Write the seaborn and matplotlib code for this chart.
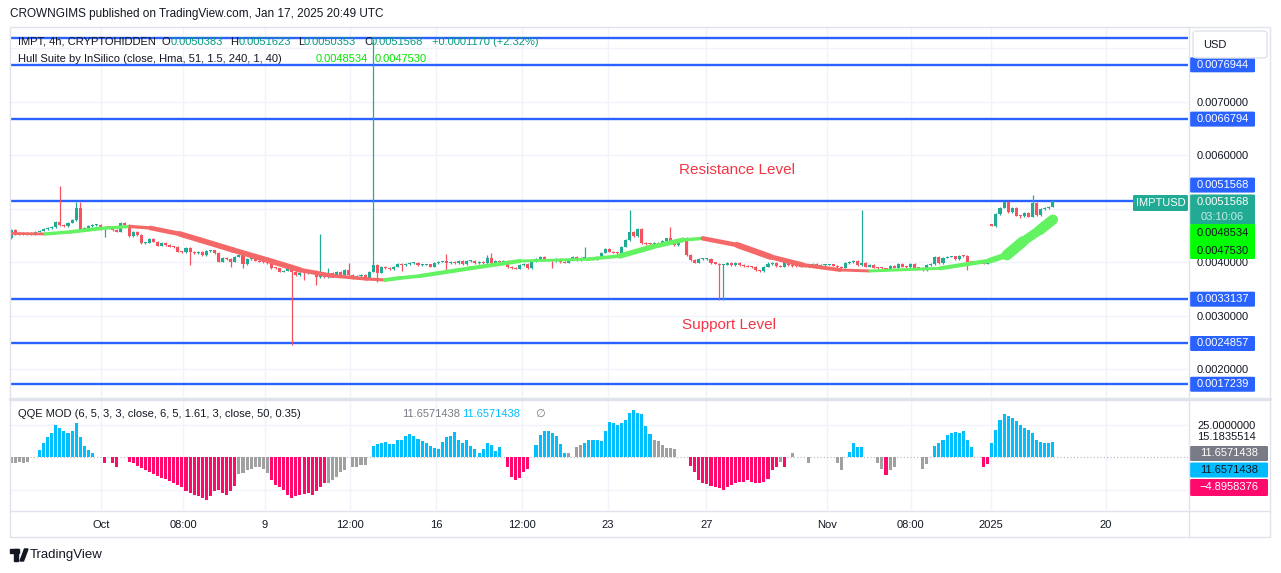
import numpy as np
import pandas as pd
import matplotlib
matplotlib.use("Agg")
import matplotlib.pyplot as plt
import seaborn as sns
from matplotlib.patches import Rectangle, FancyBboxPatch, Polygon
from matplotlib.lines import Line2D

# ---------------- data (prices in 1e-6 USD) ----------------
closes = [
    4607, 4533, 4551, 4523, 4551, 4533, 4576, 4594, 4620, 4645,
    4658, 4757, 4701, 4682, 4744, 4794, 5013, 4607, 4639, 4682,
    4695, 4701, 4620, 4669, 4663, 4607, 4576, 4744, 4701, 4495,
    4576, 4514, 4359, 4370, 4434, 4389, 4314, 4359, 4327, 4295,
    4290, 4202, 4191, 4265, 4202, 4172, 4202, 4140, 4215, 4225,
    4172, 4015, 4090, 4060, 4015, 4108, 4140, 3972, 4065, 4097,
    4034, 4015, 4005, 3985, 3897, 3890, 3828, 3847, 3935, 3828,
    3767, 3810, 3798, 3828, 3847, 3724, 3785, 3729, 3804, 3748,
    3828, 3767, 3860, 3767, 3705, 3748, 3767, 3692, 3828, 3953,
    3810, 3922, 3897, 3879, 3922, 3966, 3948, 3972, 3985, 3990,
    3953, 3960, 3965, 3922, 3985, 4015, 4020, 3985, 4015, 3985,
    4028, 3972, 4028, 4034, 3985, 4015, 3985, 4078, 3985, 4034,
    3985, 4028, 3911, 3892, 3885, 3953, 3966, 3892, 4028, 4060,
    4097, 4047, 4034, 4030, 4060, 4004, 3996, 4060, 4097, 4047,
    4078, 4085, 4060, 4055, 4108, 4183, 4252, 4202, 4183, 4175,
    4295, 4421, 4576, 4495, 4620, 4359, 4345, 4338, 4365, 4345,
    4400, 4450, 4389, 4327, 4421, 4452, 4140, 4047, 3996, 4060,
    4065, 4070, 3985, 3980, 3953, 3960, 3996, 3953, 3985, 3953,
    3935, 3922, 3915, 3850, 3842, 3922, 3972, 3996, 3935, 3922,
    4015, 3953, 3935, 3930, 3922, 3953, 3922, 3978, 3922, 3953,
    3960, 3965, 3940, 3916, 3903, 3985, 4004, 4028, 3953, 3985,
    3922, 3953, 3903, 3892, 3888, 3885, 3940, 3903, 3966, 3922,
    3915, 3966, 3903, 3898, 3860, 3953, 3966, 4108, 3985, 4090,
    4108, 4115, 4065, 4127, 4120, 4015, 4010, 4004, 4000, 3978,
    4028, 4688, 4901, 5024, 5125, 4938, 5013, 4875, 4865, 4920,
    4856, 5106, 4888, 5000, 5013, 5043, 5157,
]
first_open = 4460
gap_opens = {241: 4710}
high_wicks = {12: 5430, 16: 5136, 17: 5136, 76: 4533, 78: 3892, 83: 3996,
              89: 8180, 107: 4159, 117: 4140, 118: 4172, 141: 4295, 152: 4981,
              162: 4658, 186: 4015, 209: 4981, 251: 5261}
low_wicks = {23: 4482, 44: 3953, 54: 3911, 57: 3897, 69: 2458, 72: 3673,
             75: 3580, 90: 3641, 96: 3847, 107: 3847, 133: 3892, 174: 3299,
             175: 3299, 222: 3860, 235: 3860, 242: 4669, 248: 4826}

# Hull Suite line (bar position, price)
hull_idx = [0, 8.4, 14.5, 21.9, 29.2, 34.2, 41.5, 46.4, 54.5, 62.9, 71, 79.1,
            87.5, 91.9, 95.6, 100.5, 112.8, 125.1, 141.5, 149.6, 157.7, 165,
            170, 178.4, 186.5, 194.6, 203.7, 211, 228.3, 240.5, 244.7, 248.6,
            252.8, 256]
hull_p = [4542, 4533, 4570, 4635, 4673, 4645, 4533, 4421, 4234, 4047, 3860,
          3748, 3692, 3673, 3710, 3748, 3891, 4028, 4060, 4121, 4295, 4420,
          4450, 4327, 4108, 3953, 3860, 3841, 3891, 4034, 4140, 4389, 4607, 4800]

levels = [0.0082, 0.0076944, 0.0066794, 0.0051568, 0.0033137, 0.0024857, 0.0017239]

qqe_vals = [
    -4, -4, -3.5, -4, -3.5, 0, 0,
    5.6, 11.3, 15.4, 19, 24.9, 22.6, 20.3, 19, 20.3, 26.2, 15.9, 9, 5.6, 3.6,
    0, 0, -4, 0, -4.6, -7, 0, 0,
    -3.6, -4.6, -6.2, -8, -9.7, -11.3, -12.8, -14.4, -15.7, -16.9, -18.2, -19.5,
    -21, -23, -25.6, -27.7, -29, -29.7, -30.8, -32.8, -30, -25.6, -25, -27.7,
    -29, -25.6, -22,
    -12.8, -12.3, -9.7, -8.5, -7.2, -7.2, -9.2, -11.8,
    -17, -21, -23, -25, -29, -31.5, -30, -29, -28, -27.7, -29, -25.6, -23, -20,
    -20, -17.5, -15, -11, -9.7, 0, -7, -7, -6, -6, 0,
    8.7, 10.3, 11.3, 11.8, 10.3, 10.3, 13.3, 13.8, 16.4, 18, 16.4, 14.1, 12.3,
    11.5, 9, 7.2, 6.4, 12, 15.4, 16.4, 19.5, 13.8, 10.8, 13.8, 9, 6.4, 3.1, 6.2,
    11.3, 9.5, 5.1, 8.2,
    0, -7, -15, -17, -16, -11, -8.5, 0,
    9.5, 17, 20.5, 20.5, 18.5, 16.4, 10, 3.6, 3.6, 0, 8, 9.5,
    10.8, 13.3, 13.8, 13.8, 12.8, 20.5, 27.4, 26.2, 24.9, 26.2, 28.7, 34.4, 36.4,
    34.5, 33.3, 24, 18,
    13.3, 12.6, 9.5, 6.9, 6.9, 6.2, 0, 0, 0,
    -6.7, -11, -17.4, -19.5, -20.5, -22, -23, -23.8, -25.1, -23, -21.3, -20,
    -18.7, -18.7, -17.4, -18.7, -19.5, -20, -18.7, -16.2, -9.7, -7.2, -3.3, -7.2,
    0, 3.6, 0, 0, 0, -4.6, 0, 0, 0, 0, 0, 0, -4.6, -9.7, 0,
    4.4, 11.3, 8.2, 8.2, 0, 0, 0,
    -4.6, -8.5, -13.6, -9.7, -7.2, 0, 0, 0, 0, 0, 0,
    -8.5, -5.4, 0,
    8.7, 10.8, 13.8, 17, 19, 19.7, 18.5, 20.3, 13.8, 8.2, 0, 0,
    -7.2, -5.4,
    10.8, 21, 28.7, 33.8, 31.8, 30, 28.2, 24.9, 23, 21.5, 18.5, 13.3, 12, 10.8,
    11.3, 11.66,
]
# g = grey, b = blue, p = pink, . = no bar
qqe_cols = ("ggggg.." + "b" * 14 + "..p.pp.." + "p" * 27 + "g" * 8 + "p" * 14
            + "ggggg.gggg." + "b" * 32 + ".pppppp." + "bbbbbbbbg.gg" + "b" * 17
            + "gggggg..." + "p" * 22 + "gp" + ".g...g......gg." + "bbbb..."
            + "ggpgg......" + "gg." + "b" * 10 + ".." + "pp" + "b" * 16)

tick_pos = [22.1, 42.3, 62.4, 83.3, 104.4, 125.6, 146.7, 170.8, 200.5, 221.1, 240.8, 269]
tick_lab = ["Oct", "08:00", "9", "12:00", "16", "12:00", "23", "27", "Nov", "08:00", "2025", "20"]

assert len(closes) == 257 and len(qqe_vals) == 257 and len(qqe_cols) == 257

# ---------------- style ----------------
TEAL = '#22ab94'
RED = '#f7525f'
BLUE = '#2962ff'
HULL_UP = '#62f262'
HULL_DN = '#f46868'
GRID = '#f0f3fa'
FRAME = '#e0e3eb'
TXT = '#131722'
Q_COL = {'b': '#00bfff', 'p': '#ff0a6c', 'g': '#a0a0a0'}

sns.set_style("white")
plt.rcParams['font.family'] = ['Liberation Sans', 'DejaVu Sans']

W, H = 1281, 573
fig = plt.figure(figsize=(W / 100, H / 100), dpi=100)
fig.patch.set_facecolor('white')


def fx(px):
    return px / W


def fy(py):
    return 1 - py / H


L, R = 10, 1188
ax = fig.add_axes([fx(L), fy(398), (R - L) / W, (398 - 27) / H])
ax2 = fig.add_axes([fx(L), fy(510), (R - L) / W, (510 - 400) / H], sharex=ax)

# ---------------- price pane ----------------
s = 1e-6
n = len(closes)
x = np.arange(n)
c = np.array(closes, float)
o = np.r_[first_open, c[:-1]]
for k, v in gap_opens.items():
    o[k] = v
top = np.maximum(o, c)
bot = np.minimum(o, c)
hi = top + 15
lo = bot - 15
for k, v in high_wicks.items():
    hi[k] = v
for k, v in low_wicks.items():
    lo[k] = v
col = np.where(c >= o, TEAL, RED)

for lv in levels:
    ax.axhline(lv, color=BLUE, lw=1.7, zorder=1)

ax.vlines(x, lo * s, hi * s, colors=col, lw=0.9, zorder=3)
ax.bar(x, np.maximum(top - bot, 20) * s, bottom=bot * s, width=0.75,
       color=col, linewidth=0, zorder=4)

# hull band: colour by direction, thickness grows with the slope (hull vs hull[2])
hx = np.array(hull_idx, float)
hp = np.array(hull_p, float)
for j in range(len(hx) - 1):
    d = hp[j + 1] - hp[j]
    slope_px = abs(d) / 18.7 / (hx[j + 1] - hx[j])
    seg = pd.DataFrame({'x': hx[j:j + 2], 'y': hp[j:j + 2] * s})
    sns.lineplot(data=seg, x='x', y='y', ax=ax, sort=False, estimator=None,
                 color=HULL_UP if d > 0 else HULL_DN,
                 lw=(2.6 + 2.4 * slope_px) * 0.72,
                 solid_capstyle='round', zorder=5, legend=False)

ax.set_xlim(-0.25, 289.2)
ax.set_ylim(1467e-6, 8401e-6)
ax.set_xlabel('')
ax.set_ylabel('')
ax.yaxis.tick_right()
yt = np.arange(2, 9) * 1e-3
ax.set_yticks(yt)
ax.set_yticklabels(['0.0020000', '0.0030000', '0.0040000', '', '0.0060000', '0.0070000', ''])
ax.tick_params(axis='y', length=0, pad=6.5, labelsize=8, labelcolor=TXT)
ax.tick_params(axis='x', length=0, labelbottom=False)
ax.set_xticks(tick_pos)
ax.grid(True, color=GRID, lw=1)
for sp in ax.spines.values():
    sp.set_visible(False)

fig.text(fx(737), fy(170), "Resistance Level", ha='center', va='center', color='#f23645', fontsize=11)
fig.text(fx(729), fy(325), "Support Level", ha='center', va='center', color='#f23645', fontsize=11)

# ---------------- QQE pane ----------------
qv = np.array(qqe_vals, float)
mask = np.array([ch != '.' for ch in qqe_cols])
ax2.axhline(0, color='#b2b5be', ls=(0, (1, 2)), lw=0.8, zorder=1)
ax2.bar(x[mask], qv[mask], width=0.75, linewidth=0, zorder=3,
        color=[Q_COL[ch] for ch in qqe_cols if ch != '.'])
ax2.set_ylim(-40.4, 44.2)
ax2.yaxis.tick_right()
ax2.set_yticks([-25, 25])
ax2.set_yticklabels(['', '25.0000000'])
ax2.tick_params(axis='y', length=0, pad=6.5, labelsize=8, labelcolor=TXT)
ax2.set_xticks(tick_pos)
ax2.set_xticklabels(tick_lab)
ax2.tick_params(axis='x', length=0, pad=7, labelsize=8, labelcolor=TXT)
ax2.grid(True, color=GRID, lw=1)
for sp in ax2.spines.values():
    sp.set_visible(False)

# ---------------- frame ----------------
fig.add_artist(Rectangle((fx(10), fy(537)), 1260 / W, 510 / H, transform=fig.transFigure,
                         fill=False, ec=FRAME, lw=1))
fig.add_artist(Line2D([fx(10), fx(1270)], [fy(399), fy(399)], lw=2.5, color=FRAME))
fig.add_artist(Line2D([fx(10), fx(1270)], [fy(510.5), fy(510.5)], lw=1, color=FRAME))
fig.add_artist(Line2D([fx(1188.5)] * 2, [fy(27), fy(537)], lw=1, color=FRAME))


def ypix(p):
    return H - ax.transData.transform((0, p))[1]


def box(yc, text, fc, tc, x0=1190, w=65, h=15, size=8):
    fig.add_artist(FancyBboxPatch((fx(x0), fy(yc + h / 2)), w / W, h / H,
                                  boxstyle="round,pad=0,rounding_size=0.0015",
                                  transform=fig.transFigure, fc=fc, ec='none'))
    if text:
        fig.text(fx(x0 + w / 2), fy(yc), text, ha='center', va='center', color=tc, fontsize=size)


# right-hand price labels
for lv in levels[1:]:
    yc = ypix(lv)
    if lv == 0.0051568:
        yc -= 15.5
    box(yc, f"{lv:.7f}", BLUE, 'white')

box(209.5, "", TEAL, 'white', h=30)
fig.text(fx(1222.5), fy(202), "0.0051568", ha='center', va='center', color='white', fontsize=8)
fig.text(fx(1222.5), fy(216.5), "03:10:06", ha='center', va='center', color='#c4ebe4', fontsize=8)
box(203, "IMPTUSD", TEAL, 'white', x0=1133, w=55, h=16)
box(241.5, "", '#00ff00', TXT, h=35)
fig.text(fx(1222.5), fy(233), "0.0048534", ha='center', va='center', color=TXT, fontsize=8)
fig.text(fx(1222.5), fy(251.5), "0.0047530", ha='center', va='center', color=TXT, fontsize=8)

fig.add_artist(FancyBboxPatch((fx(1193), fy(58)), 74 / W, 27 / H,
                              boxstyle="round,pad=0,rounding_size=0.004",
                              transform=fig.transFigure, fc='white', ec=FRAME, lw=1))
fig.text(fx(1203), fy(44.5), "USD", ha='left', va='center', color=TXT, fontsize=8)

# QQE labels on the right
fig.text(fx(1197), fy(437), "15.1835514", ha='left', va='center', color=TXT, fontsize=8)
box(453.5, "11.6571438", '#787b86', 'white', w=78)
box(470, "11.6571438", '#00bcff', TXT, w=78)
box(487.5, "\u22124.8958376", '#ff0a6c', 'white', w=78, h=17)

# ---------------- header / legends ----------------
fig.text(fx(10), fy(14), "CROWNGIMS published on TradingView.com, Jan 17, 2025 20:49 UTC",
         ha='left', va='center', color=TXT, fontsize=8.5)

VAL = '#089981'
line1 = [("IMPT, 4h, CRYPTOHIDDEN", 18, TXT), ("O", 162, TXT), ("0.0050383", 171, VAL),
         ("H", 230, TXT), ("0.0051623", 239, VAL), ("L", 298, TXT), ("0.0050353", 304, VAL),
         ("C", 364, TXT), ("0.0051568", 371, VAL), ("+0.0001170 (+2.32%)", 432, VAL)]
for t, px, cc in line1:
    fig.text(fx(px), fy(42), t, ha='left', va='center', color=cc, fontsize=8)

line2 = [("Hull Suite by InSilico (close, Hma, 51, 1.5, 240, 1, 40)", 18, TXT),
         ("0.0048534", 316, '#00e600'), ("0.0047530", 375, '#00e600')]
for t, px, cc in line2:
    fig.text(fx(px), fy(59), t, ha='left', va='center', color=cc, fontsize=8)

line3 = [("QQE MOD (6, 5, 3, 3, close, 6, 5, 1.61, 3, close, 50, 0.35)", 18, TXT),
         ("11.6571438", 402, '#787b86'), ("11.6571438", 462, '#00bcff'),
         ("\u2205", 535, '#787b86')]
for t, px, cc in line3:
    fig.text(fx(px), fy(414), t, ha='left', va='center', color=cc, fontsize=8)

# TradingView logo
fig.add_artist(Rectangle((fx(10), fy(553)), 9 / W, 4 / H, transform=fig.transFigure, color=TXT))
fig.add_artist(Rectangle((fx(14), fy(561)), 4 / W, 12 / H, transform=fig.transFigure, color=TXT))
fig.add_artist(Polygon([(fx(20), fy(561)), (fx(23.5), fy(561)), (fx(28), fy(549)), (fx(24.5), fy(549))],
                       transform=fig.transFigure, color=TXT))
fig.text(fx(30), fy(555), "TradingView", ha='left', va='center', color=TXT, fontsize=9.5)

fig.savefig("out.png", dpi=100, facecolor='white')
